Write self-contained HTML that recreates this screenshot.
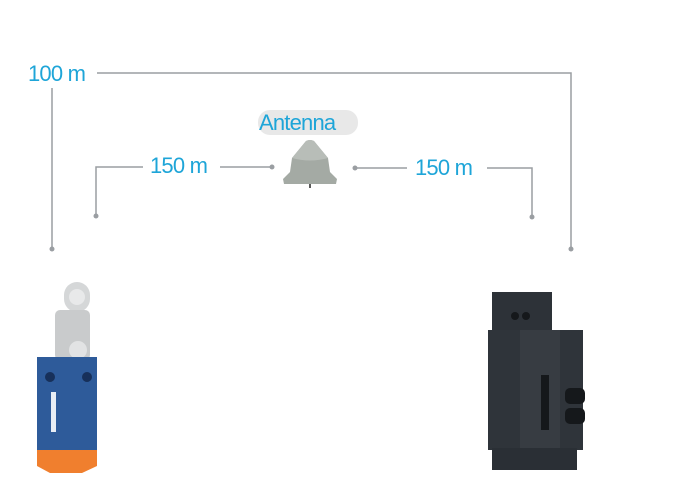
<!DOCTYPE html>
<html><head><style>
body{margin:0;width:678px;height:486px;background:#fff;position:relative;overflow:hidden;font-family:"Liberation Sans",sans-serif}
.t{position:absolute;color:#1ea5d8;font-size:22px;letter-spacing:-0.8px;line-height:24px}
</style></head><body>
<svg width="678" height="486" style="position:absolute;left:0;top:0">
<g stroke="#9a9ea2" stroke-width="1.5" fill="none">
<polyline points="97,73 571,73 571,248"/>
<line x1="52" y1="88" x2="52" y2="248"/>
<polyline points="143,167 96,167 96,216"/>
<line x1="220" y1="167" x2="272" y2="167"/>
<line x1="355" y1="168" x2="407" y2="168"/>
<polyline points="487,168 532,168 532,217"/>
</g>
<g fill="#9a9ea2">
<circle cx="52" cy="249" r="2.5"/><circle cx="571" cy="249" r="2.5"/>
<circle cx="96" cy="216" r="2.5"/><circle cx="532" cy="217" r="2.5"/>
<circle cx="272" cy="167" r="2.5"/><circle cx="355" cy="168" r="2.5"/>
</g>
<rect x="258" y="110" width="100" height="25" rx="12" fill="#e8e8e8"/>
<!-- antenna -->
<path d="M306,141 Q310,139 314,141 L328,158 L330,172 L337,179 L336,184 L284,184 L283,179 L290,172 L292,158 Z" fill="#a4aaa4"/>
<path d="M306,141 Q310,139 314,141 L328,158 Q310,163 292,158Z" fill="#b8bdb8"/>
<line x1="310" y1="184" x2="310" y2="188" stroke="#222" stroke-width="1.5"/>
<!-- limit switch -->
<rect x="64" y="282" width="26" height="30" rx="13" fill="#d5d7d8"/>
<circle cx="77" cy="297" r="8" fill="#e8e9ea"/>
<rect x="55" y="310" width="35" height="50" rx="5" fill="#c9cbcc"/>
<circle cx="78" cy="350" r="9" fill="#e2e3e4"/>
<rect x="37" y="357" width="60" height="93" fill="#2e5b9a"/>
<circle cx="50" cy="377" r="5" fill="#17305a"/><circle cx="87" cy="377" r="5" fill="#17305a"/>
<rect x="51" y="392" width="5" height="40" fill="#e8eef5"/>
<path d="M37,450 L97,450 L97,466 L82,473 L50,473 L37,466Z" fill="#f07f2e"/>
<!-- module -->
<rect x="492" y="292" width="60" height="40" fill="#2d3238"/>
<rect x="488" y="330" width="95" height="120" fill="#2f343a"/>
<rect x="520" y="330" width="40" height="125" fill="#373c42"/>
<rect x="492" y="448" width="85" height="22" fill="#2a2f35"/>
<circle cx="515" cy="316" r="4" fill="#15181b"/><circle cx="526" cy="316" r="4" fill="#15181b"/>
<rect x="541" y="375" width="8" height="55" fill="#15181b"/>
<rect x="565" y="388" width="20" height="16" rx="5" fill="#15181b"/>
<rect x="565" y="408" width="20" height="16" rx="5" fill="#15181b"/>
</svg>
<div class="t" style="left:28px;top:62px">100 m</div>
<div class="t" style="left:150px;top:154px">150 m</div>
<div class="t" style="left:415px;top:156px">150 m</div>
<div class="t" style="left:259px;top:111px">Antenna</div>
</body></html>
